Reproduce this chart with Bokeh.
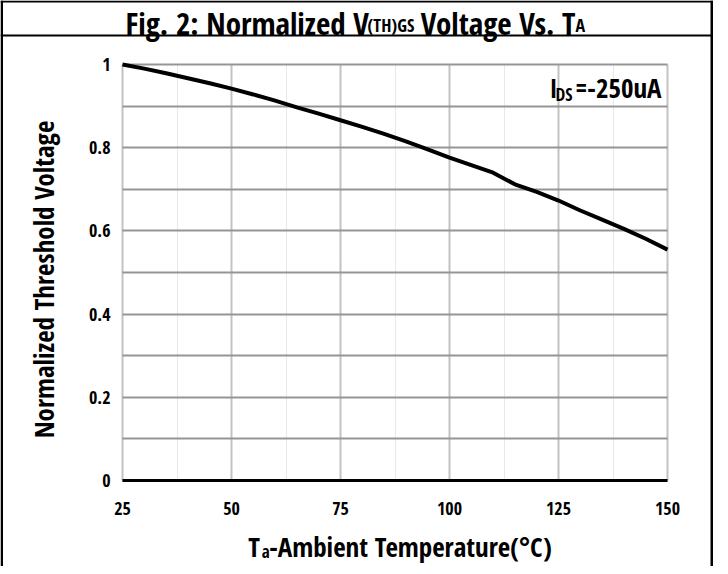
import math
from bokeh.plotting import figure
from bokeh.models import (Label, BoxAnnotation, FixedTicker, CustomJSTickFormatter,
                          Range1d, LinearAxis, Grid)
from bokeh.embed import file_html
from bokeh.resources import INLINE

# ---- data ----
temp_c = [25, 30, 35, 40, 45, 50, 55, 60, 65, 70, 75, 80, 85, 90, 95, 100,
          105, 110, 115, 120, 125, 130, 135, 140, 145, 150]
norm_vth = [1.000, 0.990, 0.979, 0.967, 0.955, 0.942, 0.928, 0.913, 0.897, 0.882,
            0.866, 0.850, 0.833, 0.815, 0.796, 0.776, 0.758, 0.740, 0.712, 0.694,
            0.673, 0.649, 0.627, 0.605, 0.581, 0.555]
x_ticks = [25, 50, 75, 100, 125, 150]
x_minor = [37.5, 62.5, 87.5, 112.5, 137.5]
y_ticks = [0, 0.2, 0.4, 0.6, 0.8, 1.0]
y_minor = [0.1, 0.3, 0.5, 0.7, 0.9]

# ---- layout (canvas pixels) ----
W, H = 720, 566
FL, FR, FT, FB = 122, 667, 64, 480
X0, X1, Y0, Y1 = 25, 150, 0, 1
sx = (FR - FL) / (X1 - X0)
sy = (FB - FT) / (Y1 - Y0)

FONT = "Open Sans Condensed"
WF = 0.81  # width factor of font relative to Arial Bold
AW = {' ': 278, '(': 333, ')': 333, '-': 333, '.': 278, ':': 333, '=': 584, '\u00b0': 400,
      'A': 722, 'C': 722, 'D': 722, 'F': 611, 'G': 778, 'H': 722, 'I': 278, 'N': 722,
      'S': 667, 'T': 611, 'V': 667, 'a': 556, 'b': 611, 'c': 556, 'd': 611, 'e': 556,
      'g': 611, 'h': 611, 'i': 278, 'l': 278, 'm': 889, 'n': 611, 'o': 611, 'p': 611,
      'r': 389, 's': 556, 't': 333, 'u': 611, 'z': 500}


def tw(text, size):
    return sum(AW.get(c, 556) for c in text) / 1000.0 * size * WF


p = figure(width=W, height=H,
           x_range=Range1d(X0 - FL / sx, X1 + (W - FR) / sx),
           y_range=Range1d(Y0 - (H - FB) / sy, Y1 + FT / sy),
           x_axis_type=None, y_axis_type=None,
           output_backend="svg", toolbar_location=None, title=None,
           min_border=0)
p.background_fill_color = "white"
p.border_fill_color = "white"
p.outline_line_color = None

# grids
try:
    gx = Grid(dimension=0, ticker=FixedTicker(ticks=x_ticks, minor_ticks=x_minor),
              bounds=(X0, X1), cross_bounds=(Y0, Y1))
    gy = Grid(dimension=1, ticker=FixedTicker(ticks=y_ticks, minor_ticks=y_minor),
              bounds=(Y0, Y1), cross_bounds=(X0, X1))
except AttributeError:
    gx = Grid(dimension=0, ticker=FixedTicker(ticks=x_ticks, minor_ticks=x_minor),
              bounds=(X0, X1))
    gy = Grid(dimension=1, ticker=FixedTicker(ticks=y_ticks, minor_ticks=y_minor),
              bounds=(Y0, Y1))
gx.grid_line_color = "#c2c2c2"
gx.grid_line_width = 2
gx.minor_grid_line_color = "#e8e8e8"
gx.minor_grid_line_width = 1
gy.grid_line_color = "#959595"
gy.grid_line_width = 2
gy.minor_grid_line_color = "#959595"
gy.minor_grid_line_width = 2
p.add_layout(gx, "center")
p.add_layout(gy, "center")

# axes
xa = LinearAxis(fixed_location=Y0, bounds=(X0, X1),
                ticker=FixedTicker(ticks=x_ticks, minor_ticks=x_minor))
xa.axis_line_color = "black"
xa.axis_line_width = 3
xa.major_tick_line_color = None
xa.minor_tick_line_color = None
xa.major_tick_out = 0
xa.minor_tick_out = 0
xa.major_label_standoff = 21
xa.major_label_text_font = FONT
xa.major_label_text_font_style = "bold"
xa.major_label_text_font_size = "18px"
xa.major_label_text_color = "black"
p.add_layout(xa, "below")

ya = LinearAxis(fixed_location=X0, bounds=(Y0, Y1),
                ticker=FixedTicker(ticks=y_ticks, minor_ticks=y_minor))
ya.formatter = CustomJSTickFormatter(code="return (Math.round(tick*10)/10).toString()")
ya.axis_line_color = None
ya.major_tick_line_color = None
ya.minor_tick_line_color = None
ya.major_tick_out = 0
ya.minor_tick_out = 0
ya.major_label_standoff = 12
ya.major_label_text_font = FONT
ya.major_label_text_font_style = "bold"
ya.major_label_text_font_size = "18px"
ya.major_label_text_color = "black"
p.add_layout(ya, "left")

# curve
p.line(temp_c, norm_vth, line_color="black", line_width=4)


# outer frame and title separator (filled bars)
def bar(l, r, t, b):
    p.add_layout(BoxAnnotation(left=l, right=r, top=t, bottom=b,
                               left_units="canvas", right_units="canvas",
                               top_units="canvas", bottom_units="canvas",
                               fill_color="black", fill_alpha=1, line_color=None))


bar(0, 2.5, 0, H)          # left border
bar(710, 712.5, 0, H)      # right border
bar(0, 712.5, 0, 2)        # top border
bar(0, 712.5, 34, 36)      # title separator


def lab(x, y, text, size, **kw):
    p.add_layout(Label(x=x, y=y, x_units="canvas", y_units="canvas", text=text,
                       text_font=FONT, text_font_style="bold",
                       text_font_size=f"{size}px", text_color="black",
                       text_baseline=kw.pop("baseline", "alphabetic"),
                       text_align=kw.pop("align", "left"), **kw))


def seq(x, y, pieces, center=False):
    total = sum(tw(t, s) + dx for t, s, d, dx in pieces)
    if center:
        x = x - total / 2
    for t, s, d, dx in pieces:
        x += dx
        stripped = t.lstrip(" ")
        x += tw(t[:len(t) - len(stripped)], s)
        lab(x, y + d, stripped, s)
        x += tw(stripped, s)


# title
seq(125, 22, [("Fig. 2: Normalized V", 31, 0, 0), ("(TH)GS", 18, 2, 2),
              (" Voltage Vs. T", 31, 0, -4), ("A", 18, 2, -3)])
# x axis title
seq((FL + FR) / 2, 546, [("T", 27, 0, 0), ("a", 17, 5, 0),
                         ("-Ambient Temperature(\u00b0C)", 27, 0, 0)], center=True)
# y axis title
lab(43, 279, "Normalized Threshold Voltage", 27, align="center", angle=math.pi / 2)
# annotation
seq(549, 87, [("I", 27, 0, 0), ("DS", 17.5, 6, 0), ("=-250uA", 27, 0, 0)])

open("out.html", "w").write(file_html(p, INLINE))
